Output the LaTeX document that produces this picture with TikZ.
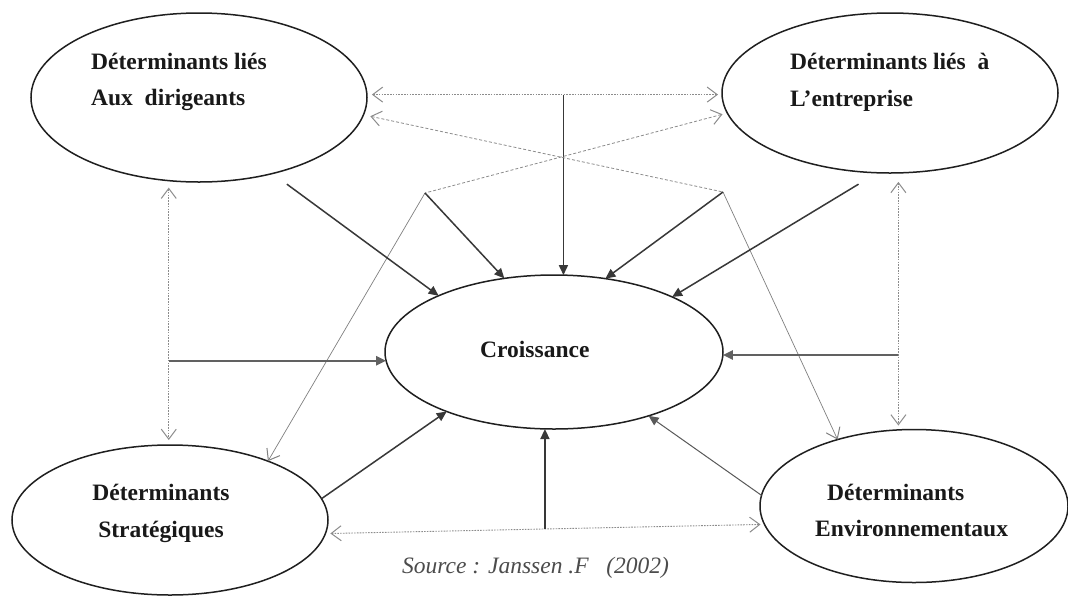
\documentclass[tikz,border=0pt]{standalone}
\usepackage{fontspec}
\setmainfont{Liberation Serif}
\usetikzlibrary{arrows.meta,shapes.geometric,calc}
\begin{document}
\begin{tikzpicture}[x=1pt,y=-1pt,
  ell/.style={draw=black!88, line width=1.5pt, ellipse, inner sep=0pt, outer sep=0pt},
  lbl/.style={font=\fontsize{23.5}{36}\selectfont\bfseries, inner sep=0pt, text=black!90},
  dotline/.style={draw=black!45, line width=0.9pt, dash pattern=on 1.6pt off 1.2pt},
  dashline/.style={draw=black!45, line width=0.8pt, dash pattern=on 3pt off 2pt},
  thinline/.style={draw=black!50, line width=0.7pt},
  openboth/.style={{Straight Barb[length=10pt,width=15pt,line width=1pt]}-{Straight Barb[length=10pt,width=15pt,line width=1pt]}},
  openfirst/.style={{Straight Barb[length=10pt,width=15pt,line width=1pt]}-},
  openlast/.style={-{Straight Barb[length=10pt,width=15pt,line width=1pt]}},
  solidarrow/.style={draw=black!78, line width=1.5pt, -{Triangle[length=10pt,width=9pt]}},
  hzarrow/.style={draw=black!62, line width=2.4pt, -{Triangle[length=10pt,width=9pt]}},
  lightarrow/.style={draw=black!65, line width=1pt, -{Triangle[length=10pt,width=9pt]}}
]
\fill[white] (0,0) rectangle (1068,598);
\useasboundingbox (0,0) rectangle (1068,598);

% ellipses
\node[ell, minimum width=336pt, minimum height=169pt] (TL) at (199,97.5) {};
\node[ell, minimum width=336pt, minimum height=160pt] (TR) at (890,93) {};
\node[ell, minimum width=338pt, minimum height=154pt] (C) at (554,352) {};
\node[ell, minimum width=316pt, minimum height=150pt] (BL) at (170,520) {};
\node[ell, minimum width=308pt, minimum height=153pt] (BR) at (914,506) {};

% texts
\node[lbl, anchor=base west] (TLa) at (91,69) {Déterminants liés};
\node[lbl, anchor=base west] (TLb) at (91,105) {Aux~~dirigeants};
\node[lbl, anchor=base west] (TRa) at (790,69) {Déterminants liés~~à};
\node[lbl, anchor=base west] (TRb) at (790,106) {L’entreprise};
\node[lbl, anchor=base] (BLa) at (161,500) {Déterminants};
\node[lbl, anchor=base] (BLb) at (161,537) {Stratégiques};
\node[lbl, anchor=base west] (BRa) at (827,500) {Déterminants};
\node[lbl, anchor=base west] (BRb) at (815,536) {Environnementaux};
\node[lbl, anchor=base west] (Ct) at (480,357) {Croissance};
\node[font=\fontsize{23.5}{28}\selectfont\itshape, text=black!70, anchor=base west, inner sep=0pt] (src) at (402,573) {Source : Janssen .F\ \ \ (2002)};

% junctions
\coordinate (jT) at (C.83.2 |- TL.1);
\coordinate (jA) at (425,193);
\coordinate (jB) at (723,192);
\coordinate (jL) at (TL.250 |- C.183.4);
\coordinate (jR) at (TR.276.4 |- C.-1.4);
\coordinate (jBot) at ($(BL.355.6)!0.5!(BR.187.9)$);

% top dotted horizontal
\draw[dotline, openboth, shorten <=5pt, shorten >=4pt] (TL.1) -- (TR.west |- TL.1);
\draw[solidarrow] (jT) -- (C.83.2);

% crossing dashed lines
\draw[dashline, openfirst, shorten <=7pt] (TL.354.8) -- (jB);
\draw[dashline, openfirst, shorten <=5pt] (TR.187) -- (jA);
\draw[thinline, openlast] (jA) -- (BL.31);
\draw[thinline, openlast] (jB) -- (BR.139);
\draw[solidarrow] (jA) -- (C.124.8);
\draw[solidarrow] (jB) -- (C.55.2);

% diagonal solid arrows from top ellipses
\draw[solidarrow, shorten <=18pt] (TL.314.2) -- (C.154.6);
\draw[solidarrow, shorten <=22pt] (TR.261.2) -- (C.25.35);

% left / right vertical dotted + horizontal arrows
\draw[dotline, openboth, shorten <=7pt, shorten >=5pt] (TL.250) -- (TL.250 |- BL.north);
\draw[hzarrow] (jL) -- (C.183.4);
\draw[dotline, openboth, shorten <=9pt, shorten >=4pt] (TR.276.4) -- (TR.276.4 |- BR.north);
\draw[hzarrow] (jR) -- (C.-1.4);

% bottom
\draw[solidarrow] (BL.8) -- (C.209.2);
\draw[lightarrow] (BR.176.7) -- (C.-34.1);
\draw[dotline, openboth, shorten <=5pt, shorten >=4pt] (BL.355.6) -- (BR.187.9);
\draw[solidarrow] (jBot) -- (jBot |- C.south);
\end{tikzpicture}
\end{document}
